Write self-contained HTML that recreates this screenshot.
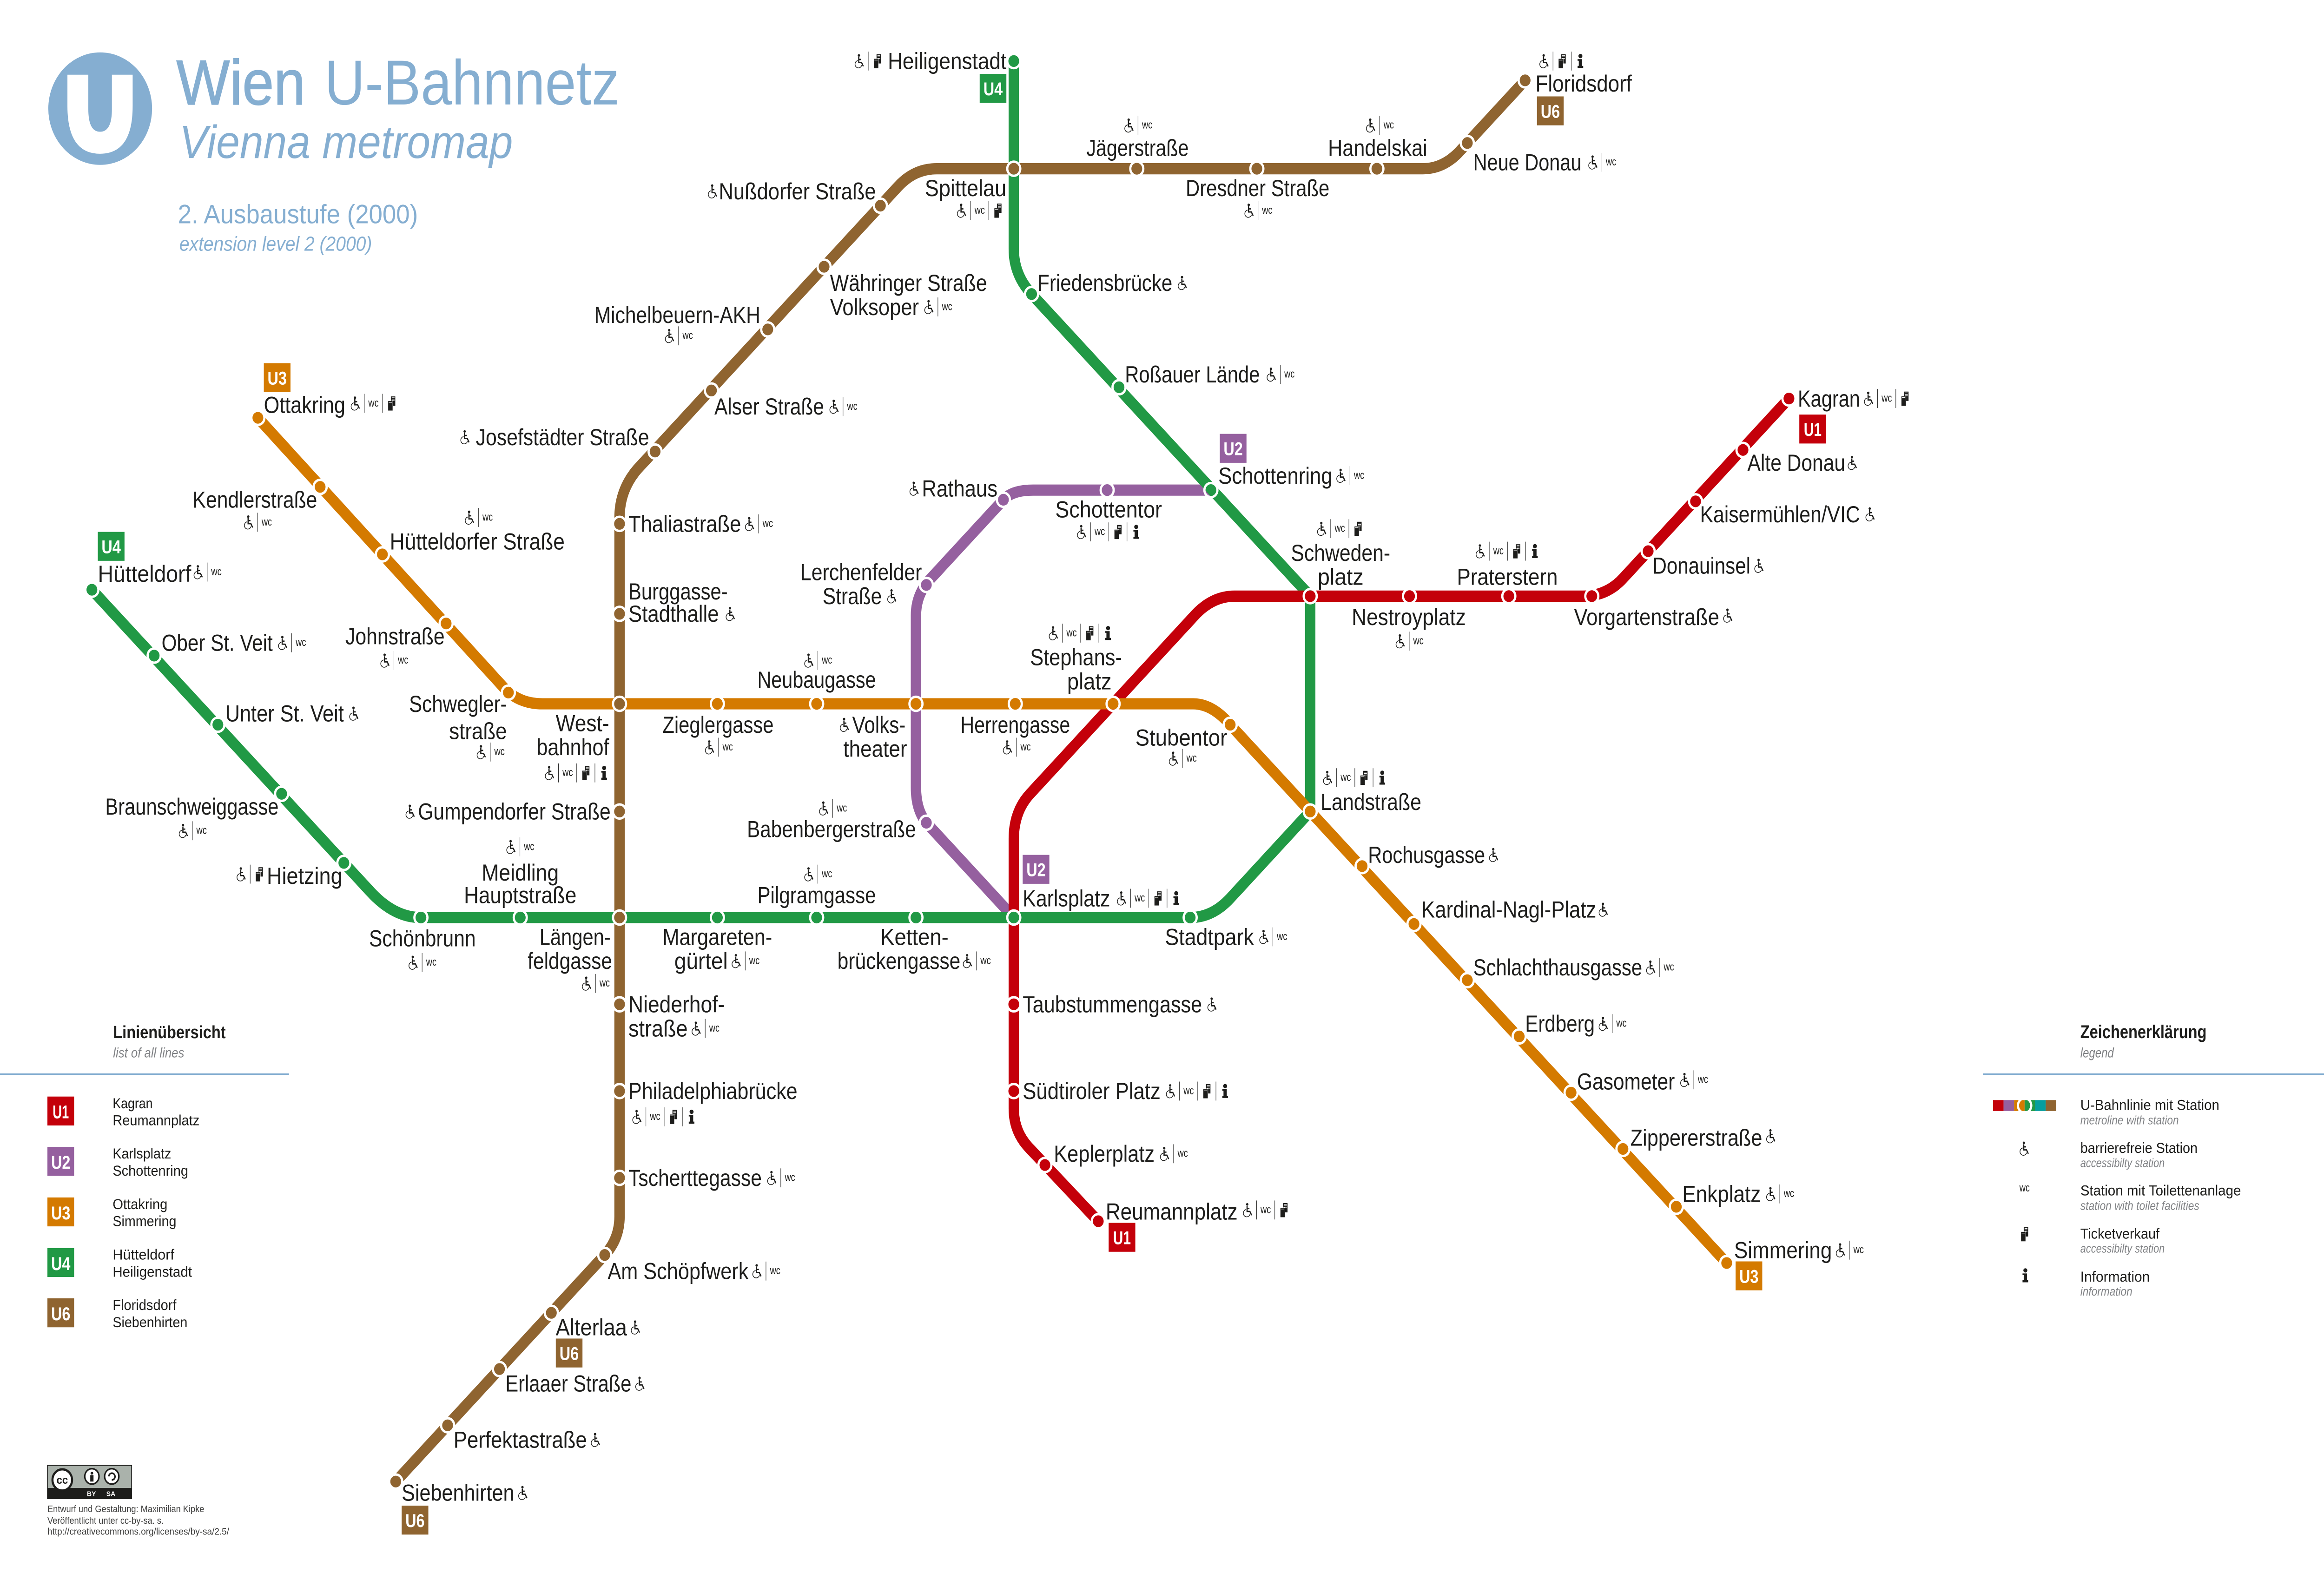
<!DOCTYPE html>
<html><head><meta charset="utf-8"><title>Wien U-Bahnnetz</title>
<style>
html,body{margin:0;padding:0;background:#fff;width:100%;height:100%;overflow:hidden}
svg{display:block;width:100vw;height:100vh}
text{font-family:"Liberation Sans",sans-serif}
.m text{font-size:14.6px;fill:#1d1d1b}
.b text{font-size:11.5px;fill:#fff;text-anchor:middle;font-weight:bold}
.l text{font-size:9px;fill:#1d1d1b}
.s text{font-size:7.6px;fill:#808285;font-style:italic}
.line{fill:none;stroke-width:7}
</style></head><body>
<svg xmlns="http://www.w3.org/2000/svg" viewBox="0 0 1568 987" preserveAspectRatio="none">
<defs>
<g id="a"><circle cx="-.5" cy="-3.5" r=".8" fill="#1d1d1b"/><path d="M-.6-2.6V.9H1.3L2.5 3.3M-.6-1H1" fill="none" stroke="#1d1d1b" stroke-width=".8"/><path d="M-1.2-.3A2.3 2.3 0 1 0 1.4 2.6" fill="none" stroke="#1d1d1b" stroke-width=".45"/></g>
<g id="w"><text x="0" y="2" font-size="7" text-anchor="middle" textLength="7" lengthAdjust="spacingAndGlyphs" fill="#1d1d1b" style="font-family:'Liberation Sans',sans-serif">wc</text></g>
<g id="t"><rect x="-.6" y="-4.3" width="3" height="5.8" fill="#1d1d1b"/><path d="M0-3.5h1.9M0-2.6h1.9M0-1.7h1.9" stroke="#fff" stroke-width=".35"/><rect x="-2.6" y="-1.6" width="3.4" height="6.2" fill="#fff"/><rect x="-2.4" y="-1.4" width="3" height="5.9" fill="#1d1d1b"/><path d="M-2-.6h2.2" stroke="#fff" stroke-width=".35"/></g>
<g id="i"><circle cx="0" cy="-3.1" r="1.35" fill="#1d1d1b"/><path d="M-1.9-1.2H1.1V3H1.9V4.3H-1.9V3H-1.1V-.2H-1.9Z" fill="#1d1d1b"/></g>
<path id="p" d="M0-5.9V5.9" stroke="#1d1d1b" stroke-width=".3"/>
<g id="aw"><use href="#a"/><use href="#p" x="5.8"/><use href="#w" x="12"/></g>
<g id="awt"><use href="#aw"/><use href="#p" x="18.1"/><use href="#t" x="24.3"/></g>
<g id="awti"><use href="#awt"/><use href="#p" x="30.4"/><use href="#i" x="36.6"/></g>
<g id="at"><use href="#a"/><use href="#p" x="5.8"/><use href="#t" x="12"/></g>
<g id="ati"><use href="#at"/><use href="#p" x="18.1"/><use href="#i" x="24.3"/></g>
</defs>
<rect width="1568" height="987" fill="#fff"/>

<!-- Logo and title -->
<circle cx="67.6" cy="67.6" r="35" fill="#85aed1"/>
<path d="M45.5 46.5H59.6V68Q59.6 82 67.5 82Q75.5 82 75.5 68V46.5H89.5V66Q89.5 95.7 67.5 95.7Q45.5 95.7 45.5 66Z" fill="#fff"/>
<g fill="#85aed1">
<text x="119" y="65" font-size="39.5" textLength="87" lengthAdjust="spacingAndGlyphs" stroke="#85aed1" stroke-width=".5">Wien</text>
<text x="219" y="65" font-size="39.5" textLength="199" lengthAdjust="spacingAndGlyphs">U-Bahnnetz</text>
<text x="121" y="98.3" font-size="29" font-style="italic" textLength="225" lengthAdjust="spacingAndGlyphs">Vienna metromap</text>
<text x="120" y="139" font-size="16.7" textLength="162" lengthAdjust="spacingAndGlyphs">2. Ausbaustufe (2000)</text>
<text x="121" y="156" font-size="12.5" font-style="italic" textLength="130" lengthAdjust="spacingAndGlyphs">extension level 2 (2000)</text>
</g>

<!-- Lines -->
<path class="line" stroke="#95609f" d="M684 571L626 513Q618 505 618 490V383Q618 371 626 362L677 311Q683 305 697 305H817"/>
<path class="line" stroke="#219945" d="M62 367L250 555Q266 571 284 571H803Q818 571 830 559L884 505V371L696 183Q684 171 684 155V38"/>
<path class="line" stroke="#c4000a" d="M1207 248L1095 360Q1084 371 1068 371H833Q818 371 806 383L695 494Q684 505 684 522V690Q684 704 694 714L741 760"/>
<path class="line" stroke="#219945" d="M670 571H700"/>
<path class="line" stroke="#d47a00" d="M174 260L340 428Q350 438 366 438H805Q818 438 830 451L1165 786"/>
<path class="line" stroke="#8f6430" d="M1029 50L985 94Q974 105 960 105H632Q617 105 606 116L430 292Q418 305 418 322V757Q418 771 408 781L267 922"/>

<!-- Stations -->
<g stroke="#fff" stroke-width="1.5">
<g fill="#219945">
<circle cx="62" cy="367" r="4.4"/><circle cx="104" cy="408" r="4.4"/><circle cx="147" cy="451" r="4.4"/><circle cx="190" cy="494" r="4.4"/><circle cx="232" cy="537" r="4.4"/><circle cx="284" cy="571" r="4.4"/><circle cx="351" cy="571" r="4.4"/><circle cx="484" cy="571" r="4.4"/><circle cx="551" cy="571" r="4.4"/><circle cx="618" cy="571" r="4.4"/><circle cx="803" cy="571" r="4.4"/><circle cx="755" cy="241" r="4.4"/><circle cx="696" cy="183" r="4.4"/><circle cx="684" cy="38" r="4.4"/>
</g>
<g fill="#d47a00">
<circle cx="174" cy="260" r="4.4"/><circle cx="216" cy="303" r="4.4"/><circle cx="258" cy="345" r="4.4"/><circle cx="301" cy="388" r="4.4"/><circle cx="343" cy="431" r="4.4"/><circle cx="484" cy="438" r="4.4"/><circle cx="551" cy="438" r="4.4"/><circle cx="685" cy="438" r="4.4"/><circle cx="830" cy="451" r="4.4"/><circle cx="919" cy="539" r="4.4"/><circle cx="954" cy="575" r="4.4"/><circle cx="990" cy="610" r="4.4"/><circle cx="1025" cy="645" r="4.4"/><circle cx="1060" cy="680" r="4.4"/><circle cx="1095" cy="715" r="4.4"/><circle cx="1131" cy="751" r="4.4"/><circle cx="1165" cy="786" r="4.4"/>
</g>
<g fill="#8f6430">
<circle cx="1029" cy="50" r="4.4"/><circle cx="990" cy="89" r="4.4"/><circle cx="929" cy="105" r="4.4"/><circle cx="848" cy="105" r="4.4"/><circle cx="767" cy="105" r="4.4"/><circle cx="594" cy="128" r="4.4"/><circle cx="556" cy="166" r="4.4"/><circle cx="518" cy="205" r="4.4"/><circle cx="480" cy="243" r="4.4"/><circle cx="442" cy="281" r="4.4"/><circle cx="418" cy="326" r="4.4"/><circle cx="418" cy="382" r="4.4"/><circle cx="418" cy="505" r="4.4"/><circle cx="418" cy="625" r="4.4"/><circle cx="418" cy="679" r="4.4"/><circle cx="418" cy="733" r="4.4"/><circle cx="408" cy="781" r="4.4"/><circle cx="372" cy="817" r="4.4"/><circle cx="337" cy="852" r="4.4"/><circle cx="302" cy="887" r="4.4"/><circle cx="267" cy="922" r="4.4"/>
</g>
<g fill="#c4000a">
<circle cx="1207" cy="248" r="4.4"/><circle cx="1176" cy="280" r="4.4"/><circle cx="1144" cy="312" r="4.4"/><circle cx="1112" cy="343" r="4.4"/><circle cx="1074" cy="371" r="4.4"/><circle cx="1018" cy="371" r="4.4"/><circle cx="951" cy="371" r="4.4"/><circle cx="684" cy="625" r="4.4"/><circle cx="684" cy="679" r="4.4"/><circle cx="705" cy="725" r="4.4"/><circle cx="741" cy="760" r="4.4"/>
</g>
<g fill="#95609f">
<circle cx="625" cy="512" r="4.4"/><circle cx="625" cy="364" r="4.4"/><circle cx="677" cy="311" r="4.4"/><circle cx="747" cy="305" r="4.4"/>
</g>
<g fill="none">
<circle cx="684" cy="105" r="4.4"/><circle cx="817" cy="305" r="4.4"/><circle cx="884" cy="371" r="4.4"/><circle cx="884" cy="505" r="4.4"/><circle cx="684" cy="571" r="4.4"/><circle cx="751" cy="438" r="4.4"/><circle cx="618" cy="438" r="4.4"/><circle cx="418" cy="438" r="4.4"/><circle cx="418" cy="571" r="4.4"/>
</g>
</g>

<!-- Line badges -->
<g fill="#219945"><rect x="661" y="46" width="18" height="18"/><rect x="66" y="331" width="18" height="18"/></g>
<g fill="#8f6430"><rect x="1037" y="60" width="18" height="18"/><rect x="375" y="833" width="18" height="18"/><rect x="271" y="937" width="18" height="18"/></g>
<g fill="#d47a00"><rect x="178" y="226" width="18" height="18"/><rect x="1171" y="785" width="18" height="18"/></g>
<g fill="#c4000a"><rect x="1214" y="258" width="18" height="18"/><rect x="748" y="761" width="18" height="18"/></g>
<g fill="#95609f"><rect x="823" y="270" width="18" height="18"/><rect x="690" y="532" width="18" height="18"/></g>
<g class="b">
<text x="670" y="59.3" textLength="13" lengthAdjust="spacingAndGlyphs">U4</text>
<text x="75" y="344.3" textLength="13" lengthAdjust="spacingAndGlyphs">U4</text>
<text x="1046" y="73.3" textLength="13" lengthAdjust="spacingAndGlyphs">U6</text>
<text x="384" y="846.3" textLength="13" lengthAdjust="spacingAndGlyphs">U6</text>
<text x="280" y="950.3" textLength="13" lengthAdjust="spacingAndGlyphs">U6</text>
<text x="187" y="239.3" textLength="13" lengthAdjust="spacingAndGlyphs">U3</text>
<text x="1180" y="798.3" textLength="13" lengthAdjust="spacingAndGlyphs">U3</text>
<text x="1223" y="271.3" textLength="12" lengthAdjust="spacingAndGlyphs">U1</text>
<text x="757" y="774.3" textLength="12" lengthAdjust="spacingAndGlyphs">U1</text>
<text x="832" y="283.3" textLength="13" lengthAdjust="spacingAndGlyphs">U2</text>
<text x="699" y="545.3" textLength="13" lengthAdjust="spacingAndGlyphs">U2</text>
</g>

<!-- Station labels -->
<g class="m">
<text x="599" y="43" textLength="80" lengthAdjust="spacingAndGlyphs">Heiligenstadt</text>
<text x="1036" y="57" textLength="65" lengthAdjust="spacingAndGlyphs">Floridsdorf</text>
<text x="994" y="106" textLength="73" lengthAdjust="spacingAndGlyphs">Neue Donau</text>
<text x="733" y="97" textLength="69" lengthAdjust="spacingAndGlyphs">Jägerstraße</text>
<text x="896" y="97" textLength="67" lengthAdjust="spacingAndGlyphs">Handelskai</text>
<text x="800" y="122" textLength="97" lengthAdjust="spacingAndGlyphs">Dresdner Straße</text>
<text x="624" y="122" textLength="55" lengthAdjust="spacingAndGlyphs">Spittelau</text>
<text x="485" y="124" textLength="106" lengthAdjust="spacingAndGlyphs">Nußdorfer Straße</text>
<text x="700" y="181" textLength="91" lengthAdjust="spacingAndGlyphs">Friedensbrücke</text>
<text x="560" y="181" textLength="106" lengthAdjust="spacingAndGlyphs">Währinger Straße</text>
<text x="560" y="196" textLength="60" lengthAdjust="spacingAndGlyphs">Volksoper</text>
<text x="401" y="201" textLength="112" lengthAdjust="spacingAndGlyphs">Michelbeuern-AKH</text>
<text x="482" y="258" textLength="74" lengthAdjust="spacingAndGlyphs">Alser Straße</text>
<text x="759" y="238" textLength="91" lengthAdjust="spacingAndGlyphs">Roßauer Lände</text>
<text x="321" y="277" textLength="117" lengthAdjust="spacingAndGlyphs">Josefstädter Straße</text>
<text x="178" y="257" textLength="55" lengthAdjust="spacingAndGlyphs">Ottakring</text>
<text x="130" y="316" textLength="84" lengthAdjust="spacingAndGlyphs">Kendlerstraße</text>
<text x="263" y="342" textLength="118" lengthAdjust="spacingAndGlyphs">Hütteldorfer Straße</text>
<text x="233" y="401" textLength="67" lengthAdjust="spacingAndGlyphs">Johnstraße</text>
<text x="276" y="443" textLength="66" lengthAdjust="spacingAndGlyphs">Schwegler-</text>
<text x="303" y="460" textLength="39" lengthAdjust="spacingAndGlyphs">straße</text>
<text x="375" y="455" textLength="36" lengthAdjust="spacingAndGlyphs">West-</text>
<text x="362" y="470" textLength="49" lengthAdjust="spacingAndGlyphs">bahnhof</text>
<text x="66" y="362" textLength="63" lengthAdjust="spacingAndGlyphs">Hütteldorf</text>
<text x="109" y="405" textLength="75" lengthAdjust="spacingAndGlyphs">Ober St. Veit</text>
<text x="152" y="449" textLength="80" lengthAdjust="spacingAndGlyphs">Unter St. Veit</text>
<text x="71" y="507" textLength="117" lengthAdjust="spacingAndGlyphs">Braunschweiggasse</text>
<text x="180" y="550" textLength="51" lengthAdjust="spacingAndGlyphs">Hietzing</text>
<text x="249" y="589" textLength="72" lengthAdjust="spacingAndGlyphs">Schönbrunn</text>
<text x="325" y="548" textLength="52" lengthAdjust="spacingAndGlyphs">Meidling</text>
<text x="313" y="562" textLength="76" lengthAdjust="spacingAndGlyphs">Hauptstraße</text>
<text x="364" y="588" textLength="48" lengthAdjust="spacingAndGlyphs">Längen-</text>
<text x="356" y="603" textLength="57" lengthAdjust="spacingAndGlyphs">feldgasse</text>
<text x="282" y="510" textLength="130" lengthAdjust="spacingAndGlyphs">Gumpendorfer Straße</text>
<text x="424" y="331" textLength="76" lengthAdjust="spacingAndGlyphs">Thaliastraße</text>
<text x="424" y="373" textLength="67" lengthAdjust="spacingAndGlyphs">Burggasse-</text>
<text x="424" y="387" textLength="61" lengthAdjust="spacingAndGlyphs">Stadthalle</text>
<text x="447" y="456" textLength="75" lengthAdjust="spacingAndGlyphs">Zieglergasse</text>
<text x="511" y="428" textLength="80" lengthAdjust="spacingAndGlyphs">Neubaugasse</text>
<text x="575" y="456" textLength="36" lengthAdjust="spacingAndGlyphs">Volks-</text>
<text x="569" y="471" textLength="43" lengthAdjust="spacingAndGlyphs">theater</text>
<text x="648" y="456" textLength="74" lengthAdjust="spacingAndGlyphs">Herrengasse</text>
<text x="695" y="414" textLength="62" lengthAdjust="spacingAndGlyphs">Stephans-</text>
<text x="720" y="429" textLength="30" lengthAdjust="spacingAndGlyphs">platz</text>
<text x="766" y="464" textLength="62" lengthAdjust="spacingAndGlyphs">Stubentor</text>
<text x="540" y="361" textLength="82" lengthAdjust="spacingAndGlyphs">Lerchenfelder</text>
<text x="555" y="376" textLength="40" lengthAdjust="spacingAndGlyphs">Straße</text>
<text x="622" y="309" textLength="51" lengthAdjust="spacingAndGlyphs">Rathaus</text>
<text x="712" y="322" textLength="72" lengthAdjust="spacingAndGlyphs">Schottentor</text>
<text x="822" y="301" textLength="77" lengthAdjust="spacingAndGlyphs">Schottenring</text>
<text x="871" y="349" textLength="67" lengthAdjust="spacingAndGlyphs">Schweden-</text>
<text x="889" y="364" textLength="31" lengthAdjust="spacingAndGlyphs">platz</text>
<text x="912" y="389" textLength="77" lengthAdjust="spacingAndGlyphs">Nestroyplatz</text>
<text x="983" y="364" textLength="68" lengthAdjust="spacingAndGlyphs">Praterstern</text>
<text x="1062" y="389" textLength="98" lengthAdjust="spacingAndGlyphs">Vorgartenstraße</text>
<text x="1115" y="357" textLength="66" lengthAdjust="spacingAndGlyphs">Donauinsel</text>
<text x="1147" y="325" textLength="108" lengthAdjust="spacingAndGlyphs">Kaisermühlen/VIC</text>
<text x="1179" y="293" textLength="66" lengthAdjust="spacingAndGlyphs">Alte Donau</text>
<text x="1213" y="253" textLength="42" lengthAdjust="spacingAndGlyphs">Kagran</text>
<text x="504" y="521" textLength="114" lengthAdjust="spacingAndGlyphs">Babenbergerstraße</text>
<text x="511" y="562" textLength="80" lengthAdjust="spacingAndGlyphs">Pilgramgasse</text>
<text x="447" y="588" textLength="74" lengthAdjust="spacingAndGlyphs">Margareten-</text>
<text x="455" y="603" textLength="36" lengthAdjust="spacingAndGlyphs">gürtel</text>
<text x="594" y="588" textLength="46" lengthAdjust="spacingAndGlyphs">Ketten-</text>
<text x="565" y="603" textLength="83" lengthAdjust="spacingAndGlyphs">brückengasse</text>
<text x="690" y="564" textLength="59" lengthAdjust="spacingAndGlyphs">Karlsplatz</text>
<text x="786" y="588" textLength="60" lengthAdjust="spacingAndGlyphs">Stadtpark</text>
<text x="891" y="504" textLength="68" lengthAdjust="spacingAndGlyphs">Landstraße</text>
<text x="923" y="537" textLength="79" lengthAdjust="spacingAndGlyphs">Rochusgasse</text>
<text x="959" y="571" textLength="118" lengthAdjust="spacingAndGlyphs">Kardinal-Nagl-Platz</text>
<text x="994" y="607" textLength="114" lengthAdjust="spacingAndGlyphs">Schlachthausgasse</text>
<text x="1029" y="642" textLength="47" lengthAdjust="spacingAndGlyphs">Erdberg</text>
<text x="1064" y="678" textLength="66" lengthAdjust="spacingAndGlyphs">Gasometer</text>
<text x="1100" y="713" textLength="89" lengthAdjust="spacingAndGlyphs">Zippererstraße</text>
<text x="1135" y="748" textLength="53" lengthAdjust="spacingAndGlyphs">Enkplatz</text>
<text x="1170" y="783" textLength="66" lengthAdjust="spacingAndGlyphs">Simmering</text>
<text x="690" y="630" textLength="121" lengthAdjust="spacingAndGlyphs">Taubstummengasse</text>
<text x="690" y="684" textLength="93" lengthAdjust="spacingAndGlyphs">Südtiroler Platz</text>
<text x="711" y="723" textLength="68" lengthAdjust="spacingAndGlyphs">Keplerplatz</text>
<text x="746" y="759" textLength="89" lengthAdjust="spacingAndGlyphs">Reumannplatz</text>
<text x="424" y="630" textLength="65" lengthAdjust="spacingAndGlyphs">Niederhof-</text>
<text x="424" y="645" textLength="40" lengthAdjust="spacingAndGlyphs">straße</text>
<text x="424" y="684" textLength="114" lengthAdjust="spacingAndGlyphs">Philadelphiabrücke</text>
<text x="424" y="738" textLength="90" lengthAdjust="spacingAndGlyphs">Tscherttegasse</text>
<text x="410" y="796" textLength="95" lengthAdjust="spacingAndGlyphs">Am Schöpfwerk</text>
<text x="375" y="831" textLength="48" lengthAdjust="spacingAndGlyphs">Alterlaa</text>
<text x="341" y="866" textLength="85" lengthAdjust="spacingAndGlyphs">Erlaaer Straße</text>
<text x="306" y="901" textLength="90" lengthAdjust="spacingAndGlyphs">Perfektastraße</text>
<text x="271" y="934" textLength="76" lengthAdjust="spacingAndGlyphs">Siebenhirten</text>
</g>

<!-- Station icons -->
<use href="#at" x="580" y="38"/>
<use href="#ati" x="1042" y="38"/>
<use href="#aw" x="1075" y="101"/>
<use href="#aw" x="762" y="78"/>
<use href="#aw" x="925" y="78"/>
<use href="#aw" x="843" y="131"/>
<use href="#awt" x="649" y="131"/>
<use href="#a" x="481" y="119"/>
<use href="#a" x="798" y="176"/>
<use href="#aw" x="627" y="191"/>
<use href="#aw" x="452" y="209"/>
<use href="#aw" x="563" y="253"/>
<use href="#aw" x="858" y="233"/>
<use href="#a" x="314" y="272"/>
<use href="#awt" x="240" y="251"/>
<use href="#aw" x="168" y="325"/>
<use href="#aw" x="317" y="322"/>
<use href="#aw" x="260" y="411"/>
<use href="#aw" x="325" y="468"/>
<use href="#awti" x="371" y="481"/>
<use href="#aw" x="134" y="356"/>
<use href="#aw" x="191" y="400"/>
<use href="#a" x="239" y="444"/>
<use href="#aw" x="124" y="517"/>
<use href="#at" x="163" y="544"/>
<use href="#aw" x="279" y="599"/>
<use href="#aw" x="345" y="527"/>
<use href="#aw" x="396" y="612"/>
<use href="#a" x="277" y="505"/>
<use href="#aw" x="506" y="326"/>
<use href="#a" x="493" y="382"/>
<use href="#aw" x="479" y="465"/>
<use href="#aw" x="546" y="411"/>
<use href="#a" x="570" y="451"/>
<use href="#aw" x="680" y="465"/>
<use href="#awti" x="711" y="394"/>
<use href="#aw" x="792" y="472"/>
<use href="#a" x="602" y="371"/>
<use href="#a" x="617" y="304"/>
<use href="#awti" x="730" y="331"/>
<use href="#aw" x="905" y="296"/>
<use href="#awt" x="892" y="329"/>
<use href="#aw" x="945" y="399"/>
<use href="#awti" x="999" y="343"/>
<use href="#a" x="1166" y="383"/>
<use href="#a" x="1187" y="352"/>
<use href="#a" x="1262" y="320"/>
<use href="#a" x="1250" y="288"/>
<use href="#awt" x="1261" y="248"/>
<use href="#aw" x="556" y="503"/>
<use href="#aw" x="546" y="544"/>
<use href="#aw" x="497" y="598"/>
<use href="#aw" x="653" y="598"/>
<use href="#awti" x="757" y="559"/>
<use href="#aw" x="853" y="583"/>
<use href="#awti" x="896" y="484"/>
<use href="#a" x="1008" y="532"/>
<use href="#a" x="1082" y="566"/>
<use href="#aw" x="1114" y="602"/>
<use href="#aw" x="1082" y="637"/>
<use href="#aw" x="1137" y="672"/>
<use href="#a" x="1195" y="707"/>
<use href="#aw" x="1195" y="743"/>
<use href="#aw" x="1242" y="778"/>
<use href="#a" x="818" y="625"/>
<use href="#awti" x="790" y="679"/>
<use href="#aw" x="786" y="718"/>
<use href="#awt" x="842" y="753"/>
<use href="#aw" x="470" y="640"/>
<use href="#awti" x="430" y="695"/>
<use href="#aw" x="521" y="733"/>
<use href="#aw" x="511" y="791"/>
<use href="#a" x="429" y="826"/>
<use href="#a" x="432" y="861"/>
<use href="#a" x="402" y="896"/>
<use href="#a" x="353" y="929"/>

<!-- Left legend -->
<text x="76.3" y="646" font-size="11" font-weight="bold" fill="#1d1d1b" textLength="76" lengthAdjust="spacingAndGlyphs">Linienübersicht</text>
<text x="76.3" y="658" font-size="8.5" font-style="italic" fill="#808285" textLength="48" lengthAdjust="spacingAndGlyphs">list of all lines</text>
<rect x="0" y="668" width="195" height=".9" fill="#85aed1"/>
<rect x="32" y="682.4" width="18" height="18" fill="#c4000a"/>
<rect x="32" y="713.7" width="18" height="18" fill="#95609f"/>
<rect x="32" y="745.2" width="18" height="18" fill="#d47a00"/>
<rect x="32" y="776.7" width="18" height="18" fill="#219945"/>
<rect x="32" y="808" width="18" height="18" fill="#8f6430"/>
<g class="b">
<text x="41" y="696" textLength="11" lengthAdjust="spacingAndGlyphs">U1</text>
<text x="41" y="727.3" textLength="13" lengthAdjust="spacingAndGlyphs">U2</text>
<text x="41" y="758.8" textLength="13" lengthAdjust="spacingAndGlyphs">U3</text>
<text x="41" y="790.3" textLength="13" lengthAdjust="spacingAndGlyphs">U4</text>
<text x="41" y="821.6" textLength="13" lengthAdjust="spacingAndGlyphs">U6</text>
</g>
<g class="l">
<text x="76" y="689.7" textLength="27" lengthAdjust="spacingAndGlyphs">Kagran</text>
<text x="76" y="700.3" textLength="58.6" lengthAdjust="spacingAndGlyphs">Reumannplatz</text>
<text x="76" y="721" textLength="39.5" lengthAdjust="spacingAndGlyphs">Karlsplatz</text>
<text x="76" y="731.7" textLength="51" lengthAdjust="spacingAndGlyphs">Schottenring</text>
<text x="76" y="752.4" textLength="37" lengthAdjust="spacingAndGlyphs">Ottakring</text>
<text x="76" y="763" textLength="43" lengthAdjust="spacingAndGlyphs">Simmering</text>
<text x="76" y="783.8" textLength="41.6" lengthAdjust="spacingAndGlyphs">Hütteldorf</text>
<text x="76" y="794.5" textLength="53.5" lengthAdjust="spacingAndGlyphs">Heiligenstadt</text>
<text x="76" y="815.2" textLength="43" lengthAdjust="spacingAndGlyphs">Floridsdorf</text>
<text x="76" y="825.9" textLength="50.5" lengthAdjust="spacingAndGlyphs">Siebenhirten</text>
</g>

<!-- CC badge -->
<rect x="32" y="911.9" width="56.8" height="20.8" fill="#aab2ab" stroke="#1d1d1b" stroke-width=".5"/>
<rect x="32" y="926" width="56.8" height="6.7" fill="#1d1d1b"/>
<circle cx="42" cy="921" r="6.6" fill="#fff" stroke="#1d1d1b" stroke-width="1.4"/>
<text x="42" y="923.4" font-size="7" font-weight="bold" text-anchor="middle" fill="#1d1d1b">cc</text>
<circle cx="62" cy="918.8" r="4.8" fill="#fff" stroke="#1d1d1b" stroke-width="1"/>
<circle cx="62" cy="916.8" r=".9" fill="#1d1d1b"/><rect x="60.9" y="918" width="2.2" height="4" fill="#1d1d1b"/>
<circle cx="75.4" cy="918.8" r="4.8" fill="#fff" stroke="#1d1d1b" stroke-width="1"/>
<path d="M73.4 918.8A2.1 2.1 0 1 1 75.4 921" fill="none" stroke="#1d1d1b" stroke-width="1"/>
<text x="61.7" y="931" font-size="4.4" font-weight="bold" text-anchor="middle" fill="#fff">BY</text>
<text x="74.8" y="931" font-size="4.4" font-weight="bold" text-anchor="middle" fill="#fff">SA</text>
<g font-size="6" fill="#3c3c3b">
<text x="32" y="941" textLength="105.8" lengthAdjust="spacingAndGlyphs">Entwurf und Gestaltung: Maximilian Kipke</text>
<text x="32" y="948.3" textLength="78.4" lengthAdjust="spacingAndGlyphs">Veröffentlicht unter cc-by-sa. s.</text>
<text x="32" y="955" textLength="122.6" lengthAdjust="spacingAndGlyphs">http://creativecommons.org/licenses/by-sa/2.5/</text>
</g>

<!-- Right legend -->
<text x="1403.6" y="646" font-size="11.5" font-weight="bold" fill="#1d1d1b" textLength="85.2" lengthAdjust="spacingAndGlyphs">Zeichenerklärung</text>
<text x="1403.6" y="658" font-size="8.5" font-style="italic" fill="#808285" textLength="22.6" lengthAdjust="spacingAndGlyphs">legend</text>
<rect x="1337.8" y="668" width="230.2" height=".9" fill="#85aed1"/>
<rect x="1344.7" y="684.6" width="7.1" height="6.8" fill="#c4000a"/>
<rect x="1351.8" y="684.6" width="7.1" height="6.8" fill="#95609f"/>
<rect x="1358.9" y="684.6" width="7.1" height="6.8" fill="#d47a00"/>
<rect x="1366" y="684.6" width="7.1" height="6.8" fill="#219945"/>
<rect x="1373.1" y="684.6" width="7.1" height="6.8" fill="#069e9e"/>
<rect x="1380.2" y="684.6" width="7.1" height="6.8" fill="#8f6430"/>
<circle cx="1366" cy="688" r="4.5" fill="none" stroke="#fff" stroke-width="1.5"/>
<use href="#a" x="1366" y="714.7"/>
<use href="#w" x="1366" y="739.5"/>
<use href="#t" x="1366" y="768"/>
<use href="#i" x="1366.5" y="793.7"/>
<g class="l">
<text x="1403.6" y="690.8" textLength="93.8" lengthAdjust="spacingAndGlyphs">U-Bahnlinie mit Station</text>
<text x="1403.6" y="717.5" textLength="79.1" lengthAdjust="spacingAndGlyphs">barrierefreie Station</text>
<text x="1403.6" y="744" textLength="108.4" lengthAdjust="spacingAndGlyphs">Station mit Toilettenanlage</text>
<text x="1403.6" y="770.9" textLength="53.4" lengthAdjust="spacingAndGlyphs">Ticketverkauf</text>
<text x="1403.6" y="797.6" textLength="46.9" lengthAdjust="spacingAndGlyphs">Information</text>
</g>
<g class="s">
<text x="1403.6" y="699.7" textLength="66.4" lengthAdjust="spacingAndGlyphs">metroline with station</text>
<text x="1403.6" y="726.3" textLength="56.9" lengthAdjust="spacingAndGlyphs">accessibilty station</text>
<text x="1403.6" y="752.9" textLength="80.3" lengthAdjust="spacingAndGlyphs">station with toilet facilities</text>
<text x="1403.6" y="779.5" textLength="56.9" lengthAdjust="spacingAndGlyphs">accessibilty station</text>
<text x="1403.6" y="806.2" textLength="35.1" lengthAdjust="spacingAndGlyphs">information</text>
</g>
</svg>
</body></html>
